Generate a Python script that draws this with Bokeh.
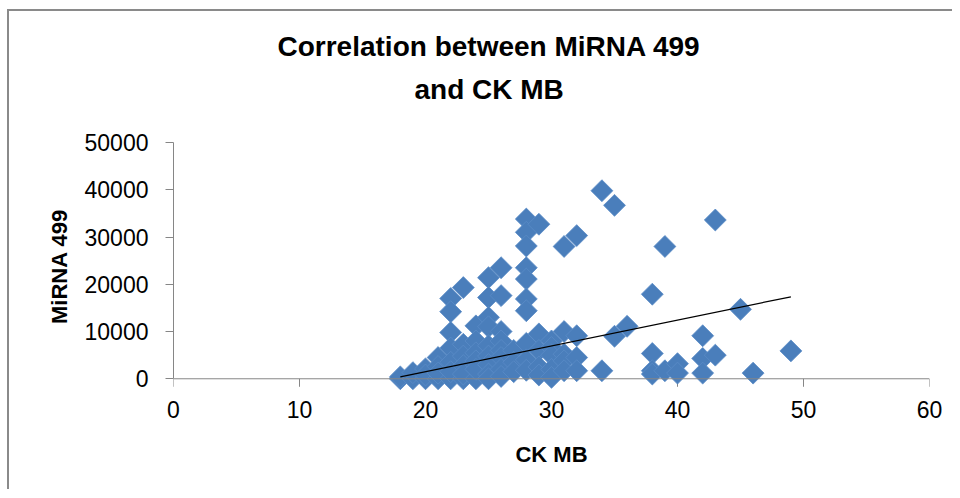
import numpy as np
from bokeh.plotting import figure
from bokeh.models import Range1d, FixedTicker, Span, Title
from bokeh.embed import file_html
from bokeh.resources import INLINE

# ---- data ----
ck_mb = (
    [18, 18]
    + [19, 19]
    + [20, 20, 20]
    + [21, 21, 21, 21]
    + [22] * 7
    + [23] * 6
    + [24] * 6
    + [25] * 9
    + [26] * 8
    + [27] * 3
    + [28] * 10
    + [29] * 5
    + [30] * 5
    + [31] * 5
    + [32] * 4
    + [34, 34]
    + [35, 35]
    + [36]
    + [38] * 4
    + [39, 39]
    + [40, 40]
    + [42] * 3
    + [43, 43]
    + [45]
    + [46]
    + [49]
)
mirna_499 = (
    [0, 400]
    + [0, 1300]
    + [0, 2100, 800]
    + [0, 4500, 2600, 1200]
    + [0, 17000, 14200, 9800, 6500, 3500, 1500]
    + [0, 19300, 7300, 4800, 2800, 1000]
    + [0, 11200, 8000, 5500, 3800, 2000]
    + [21400, 17200, 13000, 11000, 7000, 4800, 3000, 1000, 0]
    + [23500, 17600, 10000, 8000, 6000, 4500, 2000, 500]
    + [6000, 3500, 1500]
    + [33800, 31000, 28100, 23500, 21100, 16900, 14400, 7500, 4000, 1800]
    + [32700, 9500, 6000, 2500, 800]
    + [8000, 6600, 5000, 2000, 300]
    + [28000, 10000, 5200, 3800, 1700]
    + [30300, 9100, 4500, 1700]
    + [39800, 1700]
    + [36700, 9000]
    + [11100]
    + [17900, 5350, 1700, 1000]
    + [28000, 1700]
    + [3200, 1200]
    + [9100, 4300, 1200]
    + [33600, 5000]
    + [14700]
    + [1200]
    + [5900]
)
x_ticks = [0, 10, 20, 30, 40, 50, 60]
y_ticks = [0, 10000, 20000, 30000, 40000, 50000]
trend_slope = 547.0
trend_intercept = -9450.0

title_line1 = "Correlation between MiRNA 499"
title_line2 = "and CK MB"
x_title = "CK MB"
y_title = "MiRNA 499"

FONT = "Liberation Sans"
AXIS_GRAY = "#868686"
TICK_LEN = 1690  # 8 px in data units of the y scale

p = figure(
    width=945, height=480,
    output_backend="svg", toolbar_location=None,
    x_range=Range1d(0, 60), y_range=Range1d(-2480, 50000),
    min_border_left=164, min_border_right=25,
    min_border_top=131, min_border_bottom=101,
)
p.styles = {"margin-left": "7px", "margin-top": "9px",
            "border-left": "2px solid #8a8a8a", "border-top": "2px solid #8a8a8a"}
p.outline_line_color = None
p.grid.visible = False
p.background_fill_color = "white"
p.border_fill_color = "white"

# x axis: labels from the standard axis, line + ticks drawn at y = 0
xa = p.xaxis[0]
xa.ticker = FixedTicker(ticks=x_ticks)
xa.minor_tick_line_color = None
xa.major_tick_line_color = None
xa.axis_line_color = None
xa.major_tick_in = 0
xa.major_tick_out = 0
xa.major_label_text_font = FONT
xa.major_label_text_font_size = "23px"
xa.major_label_text_color = "black"
xa.major_label_standoff = 10
xa.axis_label = x_title
xa.axis_label_text_font = FONT
xa.axis_label_text_font_size = "22px"
xa.axis_label_text_font_style = "bold"
xa.axis_label_text_color = "black"
xa.axis_label_standoff = 21

p.add_layout(Span(location=0, dimension="width", line_color=AXIS_GRAY, line_width=1))
p.segment(x0=x_ticks, y0=[0] * len(x_ticks), x1=x_ticks, y1=[-TICK_LEN] * len(x_ticks),
          line_color=AXIS_GRAY, line_width=1)

# y axis
ya = p.yaxis[0]
ya.bounds = (0, 50000)
ya.ticker = FixedTicker(ticks=y_ticks)
ya.minor_tick_line_color = None
ya.major_tick_in = 0
ya.major_tick_out = 8
ya.axis_line_color = AXIS_GRAY
ya.major_tick_line_color = AXIS_GRAY
ya.major_label_text_font = FONT
ya.major_label_text_font_size = "23px"
ya.major_label_text_color = "black"
ya.major_label_standoff = 17
ya.axis_label = y_title
ya.axis_label_text_font = FONT
ya.axis_label_text_font_size = "22px"
ya.axis_label_text_font_style = "bold"
ya.axis_label_text_color = "black"
ya.axis_label_standoff = 10

# scatter points (diamonds as rotated squares)
p.scatter(ck_mb, mirna_499, marker="square", angle=np.pi / 4, size=15.5,
          fill_color="#4A7EBB", line_color="#5B8BC6", line_width=0.8)

# linear trendline over the data's x span
tx = [min(ck_mb), max(ck_mb)]
ty = [trend_slope * v + trend_intercept for v in tx]
p.line(tx, ty, line_color="black", line_width=1.3)

# title: a blank spacer nearest the frame, then the two title lines
p.add_layout(Title(text=" ", text_font=FONT, text_font_size="19px"), "above")
p.add_layout(Title(text=title_line2, align="left", offset=241,
                   text_font=FONT, text_font_size="28px", text_font_style="bold",
                   text_color="black"), "above")
p.add_layout(Title(text=title_line1, align="left", offset=104,
                   text_font=FONT, text_font_size="28px", text_font_style="bold",
                   text_color="black"), "above")

open("out.html", "w").write(file_html(p, INLINE))
